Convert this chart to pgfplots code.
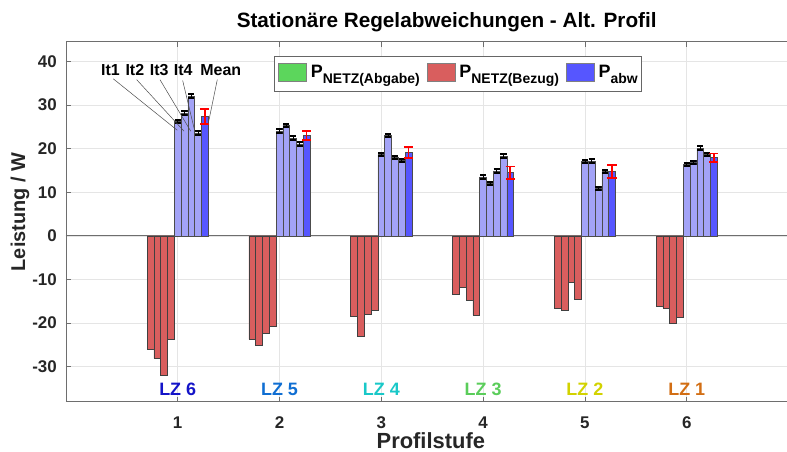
\documentclass[border=0pt]{standalone}
\usepackage{fontspec}
\setmainfont{Liberation Sans}
\usepackage{pgfplots}
\usepackage{pgfplotstable}
\pgfplotsset{compat=1.18}
\usetikzlibrary{calc}

\definecolor{redbar}{RGB}{217,94,94}
\definecolor{itblue}{RGB}{163,163,247}
\definecolor{meanblue}{RGB}{86,86,255}
\definecolor{greenbar}{RGB}{92,214,92}
\definecolor{lzsix}{RGB}{20,20,200}
\definecolor{lzfive}{RGB}{15,110,210}
\definecolor{lzfour}{RGB}{25,200,200}
\definecolor{lzthree}{RGB}{90,205,90}
\definecolor{lztwo}{RGB}{210,210,0}
\definecolor{lzone}{RGB}{210,110,20}
\definecolor{axisgray}{RGB}{110,110,110}
\definecolor{textgray}{RGB}{38,38,38}

% P_abw: iterations It1..It4, mean and its error
\pgfplotstableread{
x  it1  it2  it3  it4  mean  err
1  26.2 28.2 32.0 23.6 27.4 1.7
2  24.0 25.3 22.4 21.1 23.0 1.0
3  18.6 23.0 18.0 17.3 19.1 1.3
4  13.5 12.0 14.9 18.3 14.5 1.4
5  17.0 17.2 10.9 14.7 14.8 1.5
6  16.4 16.8 20.1 18.7 17.9 1.0
}\pabw
% P_NETZ(Bezug): iterations It1..It4
\pgfplotstableread{
x  it1   it2   it3   it4
1 -26.0 -28.1 -31.9 -23.7
2 -23.7 -25.1 -22.3 -20.8
3 -18.5 -23.0 -17.9 -17.0
4 -13.4 -11.8 -14.7 -18.1
5 -16.7 -17.1 -10.7 -14.6
6 -16.1 -16.5 -20.1 -18.6
}\pnetz

\pgfplotsset{
  redb/.style={ybar, bar width=0.0667, bar shift=0, fill=redbar, draw=black!75, line width=0.6bp, forget plot},
  itbar/.style={ybar, bar width=0.0667, bar shift=0, fill=itblue, draw=black!70, line width=0.6bp, forget plot,
    error bars/y dir=both, error bars/y fixed=0.4,
    error bars/error bar style={black, line width=0.8bp},
    error bars/error mark options={rotate=90, black, line width=2bp, mark size=3.1bp}},
  patchlegend/.style={legend image code/.code={\draw[##1] (0bp,-7.3bp) rectangle (28bp,11bp);}},
}

\begin{document}
\begin{tikzpicture}
\begin{axis}[
  scale only axis, width=721bp, height=360bp,
  xmin=-0.097, xmax=6.985, ymin=-38, ymax=44.5,
  axis y line*=left, axis x line*=box,
  xtick={1,2,3,4,5,6}, ytick={-30,-20,-10,0,10,20,30,40},
  tick align=inside, major tick length=5bp,
  grid=major, major grid style={draw=black!10, line width=0.6bp},
  axis line style={draw=axisgray, line width=0.8bp},
  tick style={draw=axisgray, line width=0.8bp},
  /pgf/number format/assume math mode=true,
  ticklabel style={font=\fontsize{17}{17}\selectfont\bfseries, text=textgray},
  xticklabel style={anchor=center, yshift=-21bp},
  yticklabel style={anchor=east, inner sep=0pt, xshift=-9bp},
  extra y ticks={0}, extra y tick labels={},
  extra y tick style={grid=major, major grid style={draw=axisgray, line width=0.8bp}},
  title={Stationäre Regelabweichungen - Alt. Profil},
  title style={font=\fontsize{20.8}{21}\selectfont\bfseries, text=black, at={(axis description cs:0.528,1.0603)}, anchor=center, yshift=-8bp, inner sep=0pt},
  xlabel={Profilstufe}, ylabel={Leistung / W},
  xlabel style={font=\fontsize{22}{22}\selectfont\bfseries, text=textgray, at={(axis description cs:0.506,-0.108)}, anchor=center, inner sep=0pt},
  ylabel style={font=\fontsize{20}{20}\selectfont\bfseries, text=textgray, at={(axis description cs:-0.0638,0.527)}, anchor=center, inner sep=0pt},
  legend columns=3,
  legend style={at={(axis description cs:0.7990,0.960)}, anchor=north east,
    draw=black!60, line width=0.7bp, fill=white, inner xsep=4bp, inner ysep=0pt,
    nodes={inner sep=0pt, text height=20.7bp, text depth=14.3bp},
    font=\fontsize{18}{18}\selectfont\bfseries,
    /tikz/every odd column/.append style={column sep=4bp},
    /tikz/every even column/.append style={column sep=7bp}},
  legend cell align=left,
]
\coordinate (ll) at (rel axis cs:0,0);
\coordinate (ur) at (rel axis cs:1,1);

% P_NETZ(Bezug), It1..It4 placed left of each Profilstufe
\addplot[redb] table[x expr=\thisrow{x}-0.2667, y=it1]{\pnetz};
\addplot[redb] table[x expr=\thisrow{x}-0.2000, y=it2]{\pnetz};
\addplot[redb] table[x expr=\thisrow{x}-0.1333, y=it3]{\pnetz};
\addplot[redb] table[x expr=\thisrow{x}-0.0667, y=it4]{\pnetz};

% P_abw iterations
\addplot[itbar] table[x expr=\thisrow{x}, y=it1]{\pabw};
\addplot[itbar] table[x expr=\thisrow{x}+0.0667, y=it2]{\pabw};
\addplot[itbar] table[x expr=\thisrow{x}+0.1333, y=it3]{\pabw};
\addplot[itbar] table[x expr=\thisrow{x}+0.2000, y=it4]{\pabw};
% P_abw mean
\addplot[ybar, bar width=0.0667, bar shift=0, fill=meanblue, draw=black!70, line width=0.6bp, forget plot,
  error bars/y dir=both, error bars/y explicit,
  error bars/error bar style={red, line width=1.6bp},
  error bars/error mark options={rotate=90, red, line width=1.6bp, mark size=4.6bp}]
  table[x expr=\thisrow{x}+0.2667, y=mean, y error=err]{\pabw};

% legend
\addlegendimage{fill=greenbar, draw=black!50, patchlegend}
\addlegendentry{P\raisebox{-6bp}{\fontsize{14}{14}\selectfont NETZ(Abgabe)}}
\addlegendimage{fill=redbar, draw=black!50, patchlegend}
\addlegendentry{P\raisebox{-6bp}{\fontsize{14}{14}\selectfont NETZ(Bezug)}}
\addlegendimage{fill=meanblue, draw=black!50, patchlegend}
\addlegendentry{P\raisebox{-6bp}{\fontsize{14}{14}\selectfont abw}}

% annotations
\begin{scope}[font=\fontsize{16}{16}\selectfont\bfseries]
\node[anchor=center, inner sep=0pt] at (axis cs:0.340,38.1) {It1};
\node[anchor=center, inner sep=0pt] at (axis cs:0.579,38.1) {It2};
\node[anchor=center, inner sep=0pt] at (axis cs:0.818,38.1) {It3};
\node[anchor=center, inner sep=0pt] at (axis cs:1.055,38.1) {It4};
\node[anchor=center, inner sep=0pt] at (axis cs:1.423,38.1) {Mean};
\end{scope}
\draw[black!70, line width=0.5bp] (axis cs:0.367,36.0) -- (axis cs:0.996,24.2);
\draw[black!70, line width=0.5bp] (axis cs:0.597,35.8) -- (axis cs:1.062,24.0);
\draw[black!70, line width=0.5bp] (axis cs:0.826,35.8) -- (axis cs:1.128,24.0);
\draw[black!70, line width=0.5bp] (axis cs:1.049,35.6) -- (axis cs:1.170,23.8);
\draw[black!70, line width=0.5bp] (axis cs:1.389,35.8) -- (axis cs:1.300,25.7);

\begin{scope}[font=\fontsize{18}{18}\selectfont\bfseries]
\node[text=lzsix, inner sep=0pt] at (axis cs:1,-35.1) {LZ 6};
\node[text=lzfive, inner sep=0pt] at (axis cs:2,-35.1) {LZ 5};
\node[text=lzfour, inner sep=0pt] at (axis cs:3,-35.1) {LZ 4};
\node[text=lzthree, inner sep=0pt] at (axis cs:4,-35.1) {LZ 3};
\node[text=lztwo, inner sep=0pt] at (axis cs:5,-35.1) {LZ 2};
\node[text=lzone, inner sep=0pt] at (axis cs:6,-35.1) {LZ 1};
\end{scope}
\end{axis}
\pgfresetboundingbox
\path[use as bounding box] ($(ll)+(-66bp,-50.2bp)$) rectangle ($(ur)+(0bp,41.7bp)$);
\end{tikzpicture}
\end{document}
